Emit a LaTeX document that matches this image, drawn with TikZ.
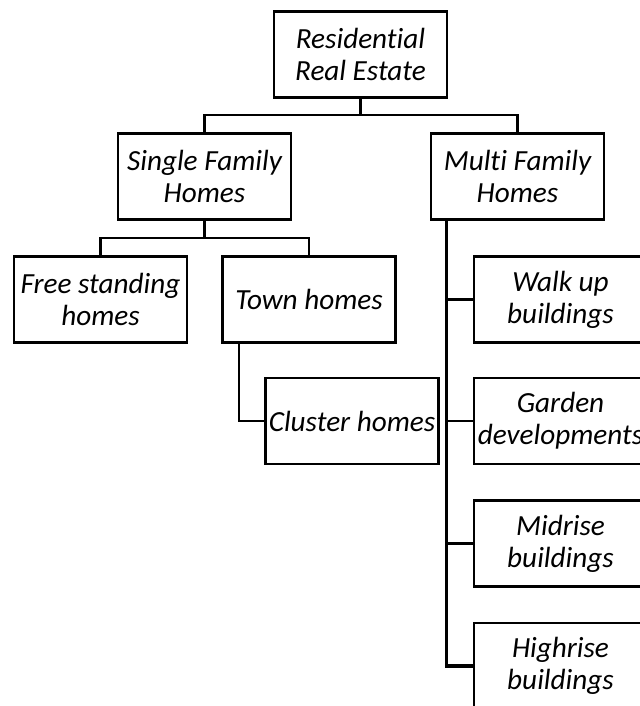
\documentclass[tikz,border=0pt]{standalone}
\usepackage{fontspec}
\setmainfont[Ligatures=NoCommon]{Carlito}

\begin{document}
\begin{tikzpicture}[x=0.5pt,y=-0.5pt,
		every node/.style={font=\fontsize{14.6}{16}\selectfont\itshape},
		box/.style={draw,line width=1.3pt,minimum width=86.5pt,minimum height=43pt,inner sep=0pt,align=center},
		link/.style={line width=1.1pt},
		spine/.style={line width=1.6pt}]
		\useasboundingbox (0,0) rectangle (640,706);

		\node[box] (root)   at (360.5,54.5)  {Residential\\Real Estate};
		\node[box] (single) at (204.5,176.5) {Single Family\\Homes};
		\node[box] (multi)  at (517.5,176.5) {Multi Family\\Homes};
		\node[box] (free)   at (100.5,299.5) {Free standing\\homes};
		\node[box] (town)   at (309,299.5)   {Town homes};
		\node[box] (cluster) at (352,421)    {Cluster homes};
		\node[box] (walk)   at (560.5,299.5) {Walk up\\buildings};
		\node[box] (garden) at (560.5,421)   {Garden\\developments};
		\node[box] (mid)    at (560.5,543.5) {Midrise\\buildings};
		\node[box] (high)   at (560.5,666)   {Highrise\\buildings};

		\coordinate (bus1) at (0,115);
		\coordinate (bus2) at (0,238);
		\draw[link] (root.south) -- (bus1 -| root.south);
		\draw[link] (single.north) |- (bus1 -| root.south) -| (multi.north);
		\draw[link] (single.south) -- (bus2 -| single.south);
		\draw[link] (free.north) |- (bus2 -| single.south) -| (town.north);
		\draw[link] ([xshift=9pt]town.south west) |- (cluster.west);

		\coordinate (mspine) at ([xshift=8.5pt]multi.south west);
		\draw[spine] (mspine) |- (high.west);
		\draw[link] (mspine |- walk.west) -- (walk.west);
		\draw[link] (mspine |- garden.west) -- (garden.west);
		\draw[link] (mspine |- mid.west) -- (mid.west);
	\end{tikzpicture}
\end{document}
